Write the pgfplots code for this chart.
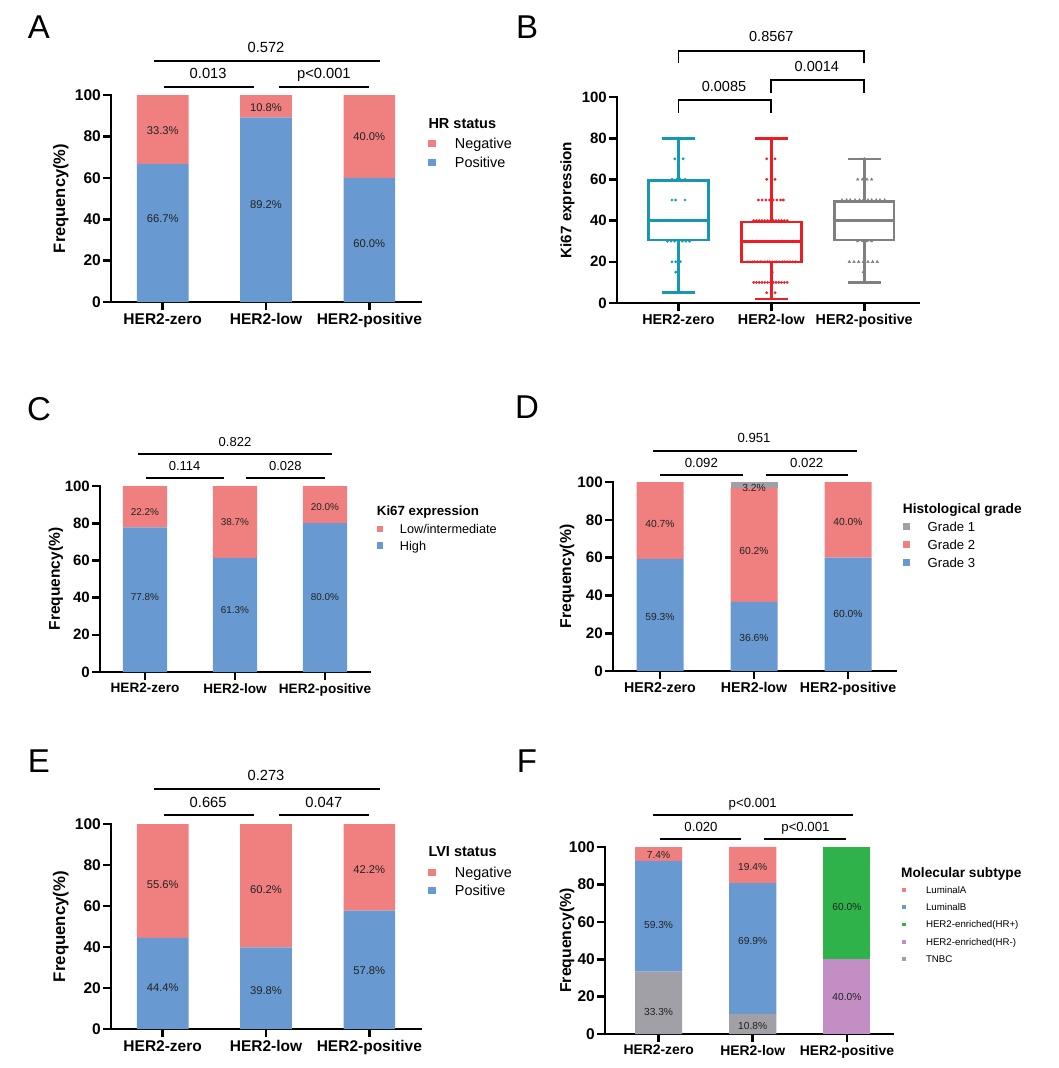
\documentclass[border=0pt]{standalone}
\usepackage{fontspec}
\setmainfont{Liberation Sans}
\usepackage{pgfplots}
\pgfplotsset{compat=1.18}

\definecolor{pinkc}{RGB}{240,128,128}
\definecolor{bluec}{RGB}{104,153,208}
\definecolor{grayc}{RGB}{160,160,166}
\definecolor{greenc}{RGB}{48,178,74}
\definecolor{purpc}{RGB}{194,142,196}
\definecolor{tealc}{RGB}{22,152,178}
\definecolor{redc}{RGB}{236,30,36}
\definecolor{gboxc}{RGB}{128,128,128}
\definecolor{txtc}{RGB}{34,34,34}

\newcommand\fs[1]{\fontsize{#1}{#1}\selectfont}
\tikzset{lab/.style={inner sep=0pt, text depth=0pt, anchor=center}}

\pgfplotsset{
  gp/.style={
    scale only axis, clip=false,
    axis lines*=left,
    axis line style={line width=2.6pt, line cap=rect},
    tick style={line width=2.6pt, black},
    tick align=outside,
    major tick length=8pt,
    xtick={0,1,2},
    xticklabels={HER2-zero,HER2-low,HER2-positive},
    ytick={0,20,40,60,80,100},
    ymin=0, ymax=100,
    /pgf/number format/assume math mode=true,
    yticklabel style={inner xsep=2pt},
    xticklabel style={inner ysep=3pt},
    ylabel style={anchor=center},
    legend cell align=left,
    reverse legend,
  },
  sqleg/.style n args={2}{legend image code/.code={\fill[##1] (0pt,-#1) rectangle ({2*#1},#1); \path[draw=none,fill=none] (0pt,0pt) rectangle (#2,0.01pt);}},
}

\begin{document}
\begin{tikzpicture}
\useasboundingbox (0pt,0pt) rectangle (1059pt,-1068pt);

% panel letters
\node[lab, font=\fs{33}] at (39pt,-27.5pt) {A};
\node[lab, font=\fs{33}] at (527pt,-27pt) {B};
\node[lab, font=\fs{33}] at (39pt,-409pt) {C};
\node[lab, font=\fs{33}] at (527pt,-407pt) {D};
\node[lab, font=\fs{33}] at (39pt,-761pt) {E};
\node[lab, font=\fs{33}] at (527pt,-761pt) {F};

%================ A
\begin{axis}[gp, ybar stacked, bar width=0.5,
  at={(111pt,-302pt)}, anchor=south west, width=310pt, height=207pt,
  xmin=-0.5, xmax=2.5,
  xticklabel style={font=\bfseries\fs{15.5}}, yticklabel style={font=\bfseries\fs{15.5}},
  ylabel={Frequency(\%)}, ylabel style={font=\bfseries\fs{16.5}, at={(axis description cs:-0.162,0.5)}},
  legend style={at={(axis description cs:1.0235,0.7915)}, anchor=north west, draw=none, fill=none,
    inner sep=0pt, outer sep=0pt, row sep=8.7pt,
    nodes={inner sep=0pt, text height=10.3pt, text depth=0pt, font=\fs{14.4}}}]
\addplot[fill=bluec, draw=none, sqleg={3.65pt}{26.7pt}] coordinates {(0,66.7) (1,89.2) (2,60.0)};
\addlegendentry{Positive}
\addplot[fill=pinkc, draw=none, sqleg={3.65pt}{26.7pt}] coordinates {(0,33.3) (1,10.8) (2,40.0)};
\addlegendentry{Negative}
\draw[line width=2pt] (axis cs:-0.08,116.4) -- (axis cs:2.1,116.4);
\draw[line width=2pt] (axis cs:0.01,103.9) -- (axis cs:0.88,103.9);
\draw[line width=2pt] (axis cs:1.13,103.9) -- (axis cs:2.0,103.9);
\node[lab, font=\fs{14.7}] at (axis cs:1.0,123) {0.572};
\node[lab, font=\fs{14.7}] at (axis cs:0.44,110.6) {0.013};
\node[lab, font=\fs{14.7}] at (axis cs:1.56,110.6) {p<0.001};
\end{axis}
\node[anchor=base west, inner sep=0pt, font=\bfseries\fs{14.5}] at (428.3pt,-128.2pt) {HR status};
\begin{scope}[every node/.style={lab, font=\fs{11.2}, text=txtc}]
\node at (162.7pt,-131pt) {33.3\%};
\node at (162.7pt,-218.3pt) {66.7\%};
\node at (266pt,-107.7pt) {10.8\%};
\node at (266pt,-205pt) {89.2\%};
\node at (369.3pt,-136.7pt) {40.0\%};
\node at (369.3pt,-243.3pt) {60.0\%};
\end{scope}

%================ B
\begin{axis}[gp,
  at={(617pt,-303pt)}, anchor=south west, width=302pt, height=206pt,
  xmin=-0.662, xmax=2.59,
  xticklabel style={font=\bfseries\fs{14.3}}, yticklabel style={font=\bfseries\fs{15}},
  ylabel={Ki67 expression}, ylabel style={font=\bfseries\fs{15.2}, at={(axis description cs:-0.164,0.5)}}]
% box plots: box, median, whiskers, caps
\addplot[tealc, line width=2.6pt, line cap=rect, unbounded coords=jump] coordinates {
 (-0.3225,30.5) (0.3225,30.5) (0.3225,59.5) (-0.3225,59.5) (-0.3225,30.5) (nan,nan)
 (-0.3225,40) (0.3225,40) (nan,nan)
 (0,59.5) (0,80) (nan,nan) (-0.165,80) (0.165,80) (nan,nan)
 (0,30.5) (0,5) (nan,nan) (-0.165,5) (0.165,5)};
\addplot[redc, line width=2.6pt, line cap=rect, unbounded coords=jump] coordinates {
 (0.6775,20) (1.3225,20) (1.3225,39.3) (0.6775,39.3) (0.6775,20) (nan,nan)
 (0.6775,30) (1.3225,30) (nan,nan)
 (1,39.3) (1,80) (nan,nan) (0.835,80) (1.165,80) (nan,nan)
 (1,20) (1,2) (nan,nan) (0.835,2) (1.165,2)};
\addplot[gboxc, line width=2.6pt, line cap=rect, unbounded coords=jump] coordinates {
 (1.6775,30.5) (2.3225,30.5) (2.3225,49.3) (1.6775,49.3) (1.6775,30.5) (nan,nan)
 (1.6775,40) (2.3225,40) (nan,nan)
 (2,49.3) (2,70) (nan,nan) (1.835,70) (2.165,70) (nan,nan)
 (2,30.5) (2,10) (nan,nan) (1.835,10) (2.165,10)};
% individual values
\addplot[only marks, mark=*, mark size=1.2pt, tealc] coordinates {
 (0,80) (-0.04,70) (0,70) (0.05,70)
 (-0.07,60) (-0.02,60) (0.02,60) (0.07,60)
 (-0.07,50) (-0.03,50) (0.07,50)
 (-0.05,40) (0,40) (0.05,40)
 (-0.12,30) (-0.08,30) (-0.04,30) (0,30) (0.04,30) (0.08,30) (0.12,30)
 (-0.07,20) (-0.03,20) (0.02,20)
 (-0.03,15) (0,10) (0,5)};
\addplot[only marks, mark=*, mark size=1.2pt, redc] coordinates {
 (1,80) (0.95,70) (1.0,70) (1.04,70)
 (0.95,60) (1.04,60)
 (0.86,50) (0.90,50) (0.94,50) (0.98,50) (1.02,50) (1.06,50) (1.10,50) (1.13,50)
 (0.81,40) (0.84,40) (0.87,40) (0.90,40) (0.93,40) (0.96,40) (0.99,40) (1.02,40) (1.05,40) (1.08,40) (1.11,40) (1.14,40) (1.17,40)
 (0.72,30) (0.76,30) (0.80,30) (0.84,30) (0.88,30) (0.92,30) (0.96,30) (1.00,30) (1.04,30) (1.08,30) (1.12,30) (1.16,30) (1.20,30) (1.24,30) (1.28,30)
 (0.74,20) (0.77,20) (0.80,20) (0.82,20) (0.85,20) (0.88,20) (0.90,20) (0.93,20) (0.96,20) (0.98,20) (1.01,20) (1.04,20) (1.06,20) (1.09,20) (1.12,20) (1.14,20) (1.17,20) (1.20,20) (1.23,20) (1.26,20)
 (1.01,15)
 (0.81,10) (0.84,10) (0.87,10) (0.90,10) (0.93,10) (0.96,10) (0.99,10) (1.02,10) (1.05,10) (1.08,10) (1.11,10) (1.14,10) (1.17,10)
 (0.95,5) (1.04,5) (1,2)};
\addplot[only marks, mark=triangle*, mark size=1.5pt, gboxc] coordinates {
 (2,70) (1.93,60) (1.98,60) (2.03,60) (2.08,60)
 (1.76,50) (1.81,50) (1.85,50) (1.90,50) (1.95,50) (1.99,50) (2.04,50) (2.08,50) (2.13,50) (2.17,50) (2.22,50)
 (1.90,40) (1.95,40) (2.0,40) (2.05,40) (2.10,40)
 (1.93,30) (1.98,30) (2.03,30) (2.08,30)
 (1.84,20) (1.89,20) (1.94,20) (1.99,20) (2.04,20) (2.09,20) (2.14,20)
 (1.99,15) (2,10)};
\draw[line width=1.8pt] (axis cs:0,92.2) -- (axis cs:0,98.5) -- (axis cs:1,98.5) -- (axis cs:1,92.2);
\draw[line width=1.8pt] (axis cs:1,101.8) -- (axis cs:1,108.3) -- (axis cs:2,108.3) -- (axis cs:2,101.8);
\draw[line width=1.8pt] (axis cs:0,116.4) -- (axis cs:0,122.5) -- (axis cs:2,122.5) -- (axis cs:2,116.4);
\node[lab, font=\fs{14.5}] at (axis cs:0.49,105.3) {0.0085};
\node[lab, font=\fs{14.5}] at (axis cs:1.49,114.7) {0.0014};
\node[lab, font=\fs{14.5}] at (axis cs:1.0,129.3) {0.8567};
\end{axis}

%================ C
\begin{axis}[gp, ybar stacked, bar width=0.49,
  at={(100pt,-672pt)}, anchor=south west, width=270pt, height=186pt,
  xmin=-0.5, xmax=2.5,
  xticklabel style={font=\bfseries\fs{13.6}}, yticklabel style={font=\bfseries\fs{15}},
  ylabel={Frequency(\%)}, ylabel style={font=\bfseries\fs{15.5}, at={(axis description cs:-0.163,0.5)}},
  legend style={at={(axis description cs:1.0248,0.7933)}, anchor=north west, draw=none, fill=none,
    inner sep=0pt, outer sep=0pt, row sep=7.6pt,
    nodes={inner sep=0pt, text height=9.1pt, text depth=0pt, font=\fs{12.7}}}]
\addplot[fill=bluec, draw=none, sqleg={3.35pt}{23.3pt}] coordinates {(0,77.8) (1,61.3) (2,80.0)};
\addlegendentry{High}
\addplot[fill=pinkc, draw=none, sqleg={3.35pt}{23.3pt}] coordinates {(0,22.2) (1,38.7) (2,20.0)};
\addlegendentry{Low/intermediate}
\draw[line width=2pt] (axis cs:-0.08,117) -- (axis cs:2.08,117);
\draw[line width=2pt] (axis cs:0.01,104.1) -- (axis cs:0.88,104.1);
\draw[line width=2pt] (axis cs:1.12,104.1) -- (axis cs:2.0,104.1);
\node[lab, font=\fs{13}] at (axis cs:1.0,123.5) {0.822};
\node[lab, font=\fs{13}] at (axis cs:0.44,110.6) {0.114};
\node[lab, font=\fs{13}] at (axis cs:1.56,110.6) {0.028};
\end{axis}
\node[anchor=base west, inner sep=0pt, font=\bfseries\fs{13.3}] at (376.7pt,-515.8pt) {Ki67 expression};
\begin{scope}[every node/.style={lab, font=\fs{9.9}, text=txtc}]
\node at (145pt,-511.7pt) {22.2\%};
\node at (145pt,-596.7pt) {77.8\%};
\node at (235pt,-522.3pt) {38.7\%};
\node at (235pt,-610pt) {61.3\%};
\node at (325pt,-507pt) {20.0\%};
\node at (325pt,-597pt) {80.0\%};
\end{scope}

%================ D
\begin{axis}[gp, ybar stacked, bar width=0.5,
  at={(613pt,-671pt)}, anchor=south west, width=283pt, height=189pt,
  xmin=-0.5, xmax=2.51,
  xticklabel style={font=\bfseries\fs{14.2}}, yticklabel style={font=\bfseries\fs{15.2}},
  ylabel={Frequency(\%)}, ylabel style={font=\bfseries\fs{15.7}, at={(axis description cs:-0.1625,0.5)}},
  legend style={at={(axis description cs:1.0237,0.7884)}, anchor=north west, draw=none, fill=none,
    inner sep=0pt, outer sep=0pt, row sep=8.6pt,
    nodes={inner sep=0pt, text height=9.4pt, text depth=0pt, font=\fs{13.1}}}]
\addplot[fill=bluec, draw=none, sqleg={3.65pt}{25pt}] coordinates {(0,59.3) (1,36.6) (2,60.0)};
\addlegendentry{Grade 3}
\addplot[fill=pinkc, draw=none, sqleg={3.65pt}{25pt}] coordinates {(0,40.7) (1,60.2) (2,40.0)};
\addlegendentry{Grade 2}
\addplot[fill=grayc, draw=none, sqleg={3.65pt}{25pt}] coordinates {(0,0) (1,3.2) (2,0)};
\addlegendentry{Grade 1}
\draw[line width=2pt] (axis cs:-0.07,116.4) -- (axis cs:2.09,116.4);
\draw[line width=2pt] (axis cs:0,103.7) -- (axis cs:0.88,103.7);
\draw[line width=2pt] (axis cs:1.13,103.7) -- (axis cs:2.0,103.7);
\node[lab, font=\fs{13.2}] at (axis cs:1.0,123.3) {0.951};
\node[lab, font=\fs{13.2}] at (axis cs:0.44,110) {0.092};
\node[lab, font=\fs{13.2}] at (axis cs:1.56,110) {0.022};
\end{axis}
\node[anchor=base west, inner sep=0pt, font=\bfseries\fs{13.7}] at (902.7pt,-513.2pt) {Histological grade};
\begin{scope}[every node/.style={lab, font=\fs{10.3}, text=txtc}]
\node at (660pt,-524.3pt) {40.7\%};
\node at (660pt,-617.3pt) {59.3\%};
\node at (754pt,-487.7pt) {3.2\%};
\node at (754pt,-550.7pt) {60.2\%};
\node at (754pt,-638.3pt) {36.6\%};
\node at (848pt,-521.7pt) {40.0\%};
\node at (848pt,-614.3pt) {60.0\%};
\end{scope}

%================ E
\begin{axis}[gp, ybar stacked, bar width=0.5,
  at={(111pt,-1029pt)}, anchor=south west, width=310pt, height=205pt,
  xmin=-0.5, xmax=2.5,
  xticklabel style={font=\bfseries\fs{15.5}}, yticklabel style={font=\bfseries\fs{15.5}},
  ylabel={Frequency(\%)}, ylabel style={font=\bfseries\fs{16.8}, at={(axis description cs:-0.162,0.5)}},
  legend style={at={(axis description cs:1.0235,0.7895)}, anchor=north west, draw=none, fill=none,
    inner sep=0pt, outer sep=0pt, row sep=8.1pt,
    nodes={inner sep=0pt, text height=10.3pt, text depth=0pt, font=\fs{14.4}}}]
\addplot[fill=bluec, draw=none, sqleg={3.65pt}{26.7pt}] coordinates {(0,44.4) (1,39.8) (2,57.8)};
\addlegendentry{Positive}
\addplot[fill=pinkc, draw=none, sqleg={3.65pt}{26.7pt}] coordinates {(0,55.6) (1,60.2) (2,42.2)};
\addlegendentry{Negative}
\draw[line width=2pt] (axis cs:-0.08,117) -- (axis cs:2.1,117);
\draw[line width=2pt] (axis cs:0.01,104.4) -- (axis cs:0.88,104.4);
\draw[line width=2pt] (axis cs:1.13,104.4) -- (axis cs:2.0,104.4);
\node[lab, font=\fs{14.7}] at (axis cs:1.0,123.9) {0.273};
\node[lab, font=\fs{14.7}] at (axis cs:0.44,110.7) {0.665};
\node[lab, font=\fs{14.7}] at (axis cs:1.56,110.7) {0.047};
\end{axis}
\node[anchor=base west, inner sep=0pt, font=\bfseries\fs{14.5}] at (428.3pt,-856.9pt) {LVI status};
\begin{scope}[every node/.style={lab, font=\fs{11.2}, text=txtc}]
\node at (162.7pt,-884.3pt) {55.6\%};
\node at (162.7pt,-987.7pt) {44.4\%};
\node at (266pt,-890pt) {60.2\%};
\node at (266pt,-991pt) {39.8\%};
\node at (369.3pt,-870pt) {42.2\%};
\node at (369.3pt,-970.7pt) {57.8\%};
\end{scope}

%================ F
\begin{axis}[gp, ybar stacked, bar width=0.5,
  at={(605pt,-1034pt)}, anchor=south west, width=288pt, height=187pt,
  xmin=-0.57, xmax=2.49,
  xticklabel style={font=\bfseries\fs{13.9}}, yticklabel style={font=\bfseries\fs{15.5}},
  ylabel={Frequency(\%)}, ylabel style={font=\bfseries\fs{15.8}, at={(axis description cs:-0.132,0.5)}},
  legend style={at={(axis description cs:1.0323,0.7885)}, anchor=north west, draw=none, fill=none,
    inner sep=0pt, outer sep=0pt, row sep=10.35pt,
    nodes={inner sep=0pt, text height=6.9pt, text depth=0pt, font=\fs{9.7}}}]
\addplot[fill=grayc, draw=none, sqleg={1.85pt}{23.7pt}] coordinates {(0,33.3) (1,10.8) (2,0)};
\addlegendentry{TNBC}
\addplot[fill=purpc, draw=none, sqleg={1.85pt}{23.7pt}] coordinates {(0,0) (1,0) (2,40.0)};
\addlegendentry{HER2-enriched(HR-)}
\addplot[fill=greenc, draw=none, sqleg={1.85pt}{23.7pt}] coordinates {(0,0) (1,0) (2,60.0)};
\addlegendentry{HER2-enriched(HR+)}
\addplot[fill=bluec, draw=none, sqleg={1.85pt}{23.7pt}] coordinates {(0,59.3) (1,69.9) (2,0)};
\addlegendentry{LuminalB}
\addplot[fill=pinkc, draw=none, sqleg={1.85pt}{23.7pt}] coordinates {(0,7.4) (1,19.4) (2,0)};
\addlegendentry{LuminalA}
\draw[line width=2pt] (axis cs:-0.06,117.1) -- (axis cs:2.07,117.1);
\draw[line width=2pt] (axis cs:0.01,104.3) -- (axis cs:0.88,104.3);
\draw[line width=2pt] (axis cs:1.12,104.3) -- (axis cs:1.99,104.3);
\node[lab, font=\fs{13.2}] at (axis cs:1.0,123.5) {p<0.001};
\node[lab, font=\fs{13.2}] at (axis cs:0.45,110.7) {0.020};
\node[lab, font=\fs{13.2}] at (axis cs:1.56,110.7) {p<0.001};
\end{axis}
\node[anchor=base west, inner sep=0pt, font=\bfseries\fs{13.7}] at (901pt,-877.6pt) {Molecular subtype};
\begin{scope}[every node/.style={lab, font=\fs{10.2}, text=txtc}]
\node at (658.6pt,-855pt) {7.4\%};
\node at (658.6pt,-925pt) {59.3\%};
\node at (658.6pt,-1012.3pt) {33.3\%};
\node at (752.7pt,-866.7pt) {19.4\%};
\node at (752.7pt,-941pt) {69.9\%};
\node at (752.7pt,-1025.7pt) {10.8\%};
\node at (846.9pt,-906.7pt) {60.0\%};
\node at (846.9pt,-996.7pt) {40.0\%};
\end{scope}

\end{tikzpicture}
\end{document}
